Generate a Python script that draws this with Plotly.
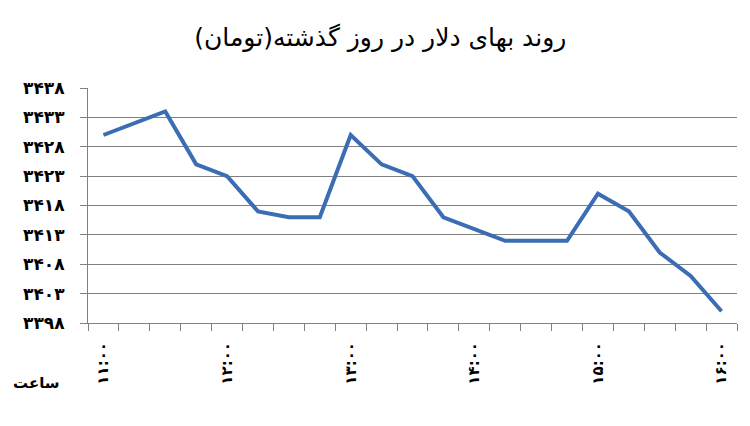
import plotly.graph_objects as go

# Dollar price over the previous day, sampled every 15 minutes
times = ["۱۱:۰۰", "۱۱:۱۵", "۱۱:۳۰", "۱۱:۴۵",
         "۱۲:۰۰", "۱۲:۱۵", "۱۲:۳۰", "۱۲:۴۵",
         "۱۳:۰۰", "۱۳:۱۵", "۱۳:۳۰", "۱۳:۴۵",
         "۱۴:۰۰", "۱۴:۱۵", "۱۴:۳۰", "۱۴:۴۵",
         "۱۵:۰۰", "۱۵:۱۵", "۱۵:۳۰", "۱۵:۴۵",
         "۱۶:۰۰"]
prices = [3430, 3432, 3434, 3425, 3423, 3417, 3416, 3416, 3430, 3425, 3423,
          3416, 3414, 3412, 3412, 3412, 3420, 3417, 3410, 3406, 3400]

y_ticks = [3398, 3403, 3408, 3413, 3418, 3423, 3428, 3433, 3438]
y_tick_labels = ["۳۳۹۸", "۳۴۰۳", "۳۴۰۸", "۳۴۱۳", "۳۴۱۸", "۳۴۲۳", "۳۴۲۸", "۳۴۳۳", "۳۴۳۸"]

title_text = "\u200fروند بهای دلار در روز گذشته(تومان)\u200f"
x_title = "ساعت"

AXIS = "#808080"
FONT = "DejaVu Sans"

x = list(range(len(times)))

fig = go.Figure()
fig.add_trace(go.Scatter(
    x=x, y=prices,
    mode="lines",
    line=dict(color="#3A6DB4", width=4),
    showlegend=False,
))

fig.update_layout(
    width=750, height=426,
    margin=dict(l=88, r=13, t=88, b=103),
    paper_bgcolor="white",
    plot_bgcolor="white",
    title=dict(
        text=title_text,
        x=0.507, xref="container", xanchor="center",
        y=0.912, yref="container", yanchor="middle",
        font=dict(family=FONT, size=25, color="black"),
    ),
    xaxis=dict(
        range=[-0.5, len(times) - 0.5],
        tickmode="array",
        tickvals=x[::4],
        ticktext=times[::4],
        tickangle=-90,
        ticks="",
        ticklabelstandoff=12,
        tickfont=dict(family=FONT, size=15, color="black", weight="bold"),
        showline=True, linecolor=AXIS, linewidth=1,
        showgrid=False, zeroline=False,
        minor=dict(
            tickmode="array",
            tickvals=[i - 0.5 for i in range(len(times) + 1)],
            ticks="outside", ticklen=7, tickcolor=AXIS, tickwidth=1,
            showgrid=False,
        ),
    ),
    yaxis=dict(
        range=[y_ticks[0], y_ticks[-1]],
        tickmode="array",
        tickvals=y_ticks,
        ticktext=y_tick_labels,
        ticks="outside", ticklen=7, tickcolor=AXIS, tickwidth=1,
        ticklabelstandoff=12,
        tickfont=dict(family=FONT, size=17, color="black", weight="bold"),
        showline=True, linecolor=AXIS, linewidth=1,
        showgrid=True, gridcolor=AXIS, gridwidth=1,
        zeroline=False,
    ),
    annotations=[dict(
        text=x_title,
        xref="paper", yref="paper",
        x=-0.079, y=-0.255,
        xanchor="center", yanchor="middle",
        showarrow=False,
        font=dict(family=FONT, size=15, color="black", weight="bold"),
    )],
)

# the browser's default body margin shifts the chart by 8px; drop it
fig.write_html("out.html", config={"displayModeBar": False},
               post_script="document.body.style.margin = '0';")
